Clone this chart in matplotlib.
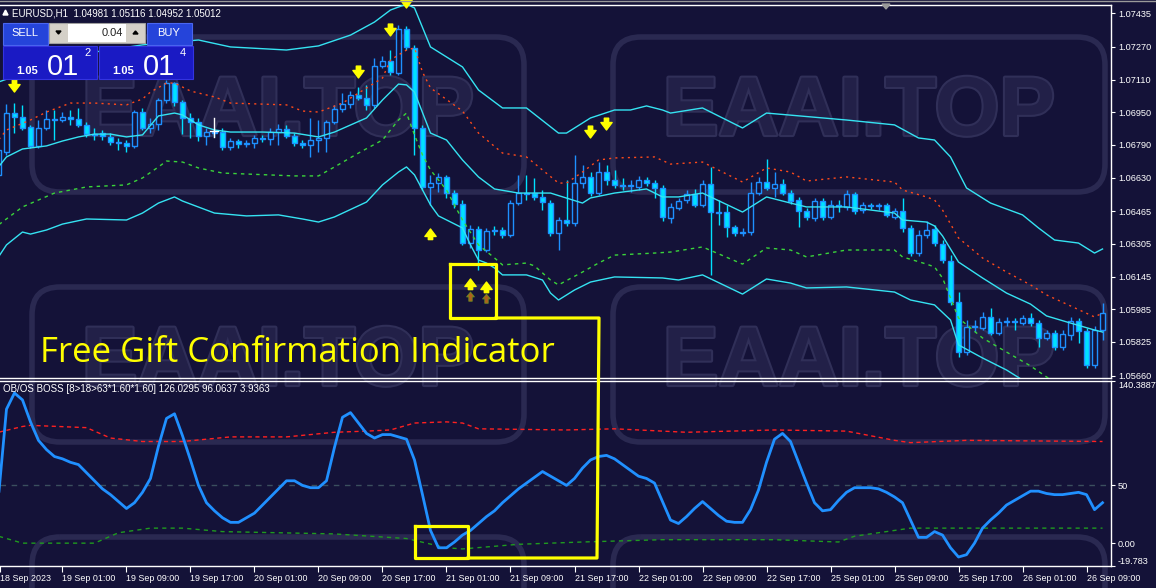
import numpy as np
import matplotlib.pyplot as plt
import matplotlib.patheffects as pe
from matplotlib.patches import Rectangle, FancyBboxPatch, Polygon
from matplotlib.lines import Line2D
from matplotlib.transforms import Affine2D

plt.rcParams['font.family'] = ['Liberation Sans', 'DejaVu Sans']

W, H = 1156, 588
BG = '#141238'
CYAN = '#35e3f2'
BULL = '#1e90ff'
BEAR = '#00e1ff'

# EURUSD H1 candles, first bar 18 Sep 17:00
open_ = [1.06643, 1.06755, 1.06946, 1.06927, 1.06878, 1.06785, 1.06873, 1.06917, 1.06912, 1.06927,
         1.06917, 1.06888, 1.06843, 1.06848, 1.06829, 1.06804, 1.06799, 1.06785, 1.06951, 1.06873,
         1.06892, 1.07010, 1.07093, 1.07000, 1.06922, 1.06902, 1.06834, 1.06853, 1.06853, 1.06780,
         1.06809, 1.06794, 1.06799, 1.06824, 1.06819, 1.06853, 1.06868, 1.06834, 1.06799, 1.06790,
         1.06814, 1.06824, 1.06902, 1.06966, 1.06990, 1.07035, 1.07020, 1.06986, 1.07177, 1.07201,
         1.07142, 1.07358, 1.07265, 1.06873, 1.06584, 1.06603, 1.06633, 1.06554, 1.06500, 1.06309,
         1.06378, 1.06275, 1.06373, 1.06373, 1.06349, 1.06505, 1.06554, 1.06554, 1.06535, 1.06505,
         1.06358, 1.06422, 1.06407, 1.06603, 1.06633, 1.06554, 1.06657, 1.06618, 1.06594, 1.06589,
         1.06584, 1.06618, 1.06603, 1.06579, 1.06432, 1.06481, 1.06520, 1.06549, 1.06496, 1.06598,
         1.06461, 1.06461, 1.06388, 1.06358, 1.06363, 1.06554, 1.06608, 1.06579, 1.06598, 1.06554,
         1.06520, 1.06466, 1.06432, 1.06515, 1.06437, 1.06496, 1.06486, 1.06549, 1.06471, 1.06496,
         1.06491, 1.06496, 1.06437, 1.06466, 1.06383, 1.06260, 1.06349, 1.06378, 1.06304, 1.06221,
         1.06020, 1.05775, 1.05898, 1.05893, 1.05947, 1.05868, 1.05922, 1.05927, 1.05917, 1.05942,
         1.05917, 1.05844, 1.05868, 1.05800, 1.05858, 1.05927, 1.05878, 1.05711, 1.05883]
high = [1.06790, 1.06990, 1.06995, 1.06986, 1.06888, 1.06912, 1.06961, 1.06961, 1.06951, 1.06961,
        1.06971, 1.06902, 1.06873, 1.06863, 1.06848, 1.06824, 1.06814, 1.06961, 1.06971, 1.06922,
        1.07020, 1.07108, 1.07098, 1.07010, 1.06946, 1.06922, 1.06873, 1.06873, 1.06873, 1.06824,
        1.06819, 1.06814, 1.06839, 1.06839, 1.06873, 1.06892, 1.06888, 1.06848, 1.06814, 1.06922,
        1.06912, 1.06912, 1.06986, 1.07044, 1.07054, 1.07074, 1.07084, 1.07216, 1.07226, 1.07255,
        1.07378, 1.07373, 1.07280, 1.06888, 1.06643, 1.06652, 1.06643, 1.06569, 1.06520, 1.06398,
        1.06393, 1.06383, 1.06393, 1.06388, 1.06520, 1.06643, 1.06643, 1.06628, 1.06569, 1.06520,
        1.06437, 1.06618, 1.06741, 1.06692, 1.06657, 1.06706, 1.06692, 1.06667, 1.06628, 1.06618,
        1.06638, 1.06633, 1.06618, 1.06594, 1.06505, 1.06530, 1.06569, 1.06574, 1.06618, 1.06682,
        1.06520, 1.06496, 1.06398, 1.06383, 1.06608, 1.06633, 1.06721, 1.06657, 1.06623, 1.06569,
        1.06535, 1.06481, 1.06530, 1.06530, 1.06520, 1.06520, 1.06569, 1.06559, 1.06510, 1.06505,
        1.06505, 1.06505, 1.06481, 1.06530, 1.06398, 1.06373, 1.06417, 1.06398, 1.06324, 1.06250,
        1.06069, 1.05932, 1.05932, 1.05971, 1.05991, 1.05942, 1.05947, 1.05942, 1.05957, 1.05966,
        1.05932, 1.05883, 1.05883, 1.05883, 1.05947, 1.05942, 1.05893, 1.05903, 1.06015]
low = [1.06628, 1.06741, 1.06848, 1.06863, 1.06775, 1.06775, 1.06863, 1.06814, 1.06902, 1.06888,
       1.06878, 1.06829, 1.06814, 1.06814, 1.06790, 1.06765, 1.06755, 1.06775, 1.06863, 1.06848,
       1.06863, 1.06995, 1.06981, 1.06843, 1.06824, 1.06809, 1.06790, 1.06829, 1.06765, 1.06765,
       1.06775, 1.06780, 1.06775, 1.06804, 1.06790, 1.06790, 1.06824, 1.06785, 1.06775, 1.06731,
       1.06755, 1.06755, 1.06892, 1.06951, 1.06971, 1.07010, 1.06961, 1.06971, 1.07167, 1.07133,
       1.07133, 1.07255, 1.06741, 1.06569, 1.06496, 1.06559, 1.06530, 1.06481, 1.06300, 1.06285,
       1.06177, 1.06265, 1.06349, 1.06334, 1.06339, 1.06496, 1.06520, 1.06520, 1.06471, 1.06344,
       1.06275, 1.06393, 1.06393, 1.06579, 1.06540, 1.06545, 1.06594, 1.06579, 1.06569, 1.06559,
       1.06569, 1.06589, 1.06530, 1.06417, 1.06407, 1.06471, 1.06505, 1.06486, 1.06486, 1.06153,
       1.06398, 1.06339, 1.06344, 1.06344, 1.06349, 1.06545, 1.06569, 1.06535, 1.06545, 1.06500,
       1.06388, 1.06422, 1.06417, 1.06422, 1.06427, 1.06461, 1.06471, 1.06451, 1.06456, 1.06476,
       1.06471, 1.06437, 1.06427, 1.06363, 1.06246, 1.06246, 1.06334, 1.06295, 1.06211, 1.06005,
       1.05751, 1.05760, 1.05873, 1.05883, 1.05858, 1.05858, 1.05903, 1.05883, 1.05908, 1.05903,
       1.05800, 1.05834, 1.05785, 1.05785, 1.05834, 1.05819, 1.05697, 1.05697, 1.05834]
close = [1.06765, 1.06946, 1.06927, 1.06873, 1.06785, 1.06873, 1.06917, 1.06912, 1.06927, 1.06917,
         1.06888, 1.06843, 1.06839, 1.06834, 1.06804, 1.06799, 1.06785, 1.06951, 1.06873, 1.06892,
         1.07010, 1.07093, 1.07000, 1.06922, 1.06902, 1.06834, 1.06853, 1.06848, 1.06780, 1.06809,
         1.06794, 1.06799, 1.06824, 1.06819, 1.06853, 1.06868, 1.06834, 1.06799, 1.06790, 1.06814,
         1.06824, 1.06902, 1.06966, 1.06990, 1.07035, 1.07020, 1.06986, 1.07177, 1.07201, 1.07147,
         1.07358, 1.07270, 1.06873, 1.06584, 1.06603, 1.06633, 1.06554, 1.06500, 1.06309, 1.06378,
         1.06275, 1.06368, 1.06368, 1.06349, 1.06505, 1.06554, 1.06549, 1.06535, 1.06510, 1.06358,
         1.06422, 1.06407, 1.06603, 1.06633, 1.06554, 1.06657, 1.06618, 1.06594, 1.06589, 1.06594,
         1.06618, 1.06603, 1.06579, 1.06437, 1.06486, 1.06515, 1.06549, 1.06496, 1.06598, 1.06461,
         1.06456, 1.06388, 1.06358, 1.06363, 1.06554, 1.06608, 1.06579, 1.06598, 1.06554, 1.06515,
         1.06466, 1.06437, 1.06515, 1.06437, 1.06496, 1.06491, 1.06549, 1.06466, 1.06496, 1.06491,
         1.06496, 1.06447, 1.06466, 1.06383, 1.06260, 1.06349, 1.06373, 1.06309, 1.06226, 1.06020,
         1.05775, 1.05898, 1.05903, 1.05947, 1.05868, 1.05922, 1.05927, 1.05922, 1.05942, 1.05917,
         1.05844, 1.05868, 1.05800, 1.05863, 1.05927, 1.05878, 1.05711, 1.05883, 1.05966]

# band lines (bar index, price)
upper_idx = [0, 6, 12, 18, 25, 29, 36, 40, 44, 47, 49, 51, 52, 54, 58, 60, 63, 66, 70, 71, 74, 77, 79, 81,
             83, 84, 88, 93, 96, 106, 112, 115, 117, 119, 121, 124, 128, 130, 132, 135, 137, 138]
upper_val = [1.07098, 1.07181, 1.07245, 1.07280, 1.07304, 1.07270, 1.07255, 1.07275, 1.07328, 1.07392,
             1.07451, 1.07480, 1.07461, 1.07270, 1.07172, 1.07059, 1.06971, 1.06971, 1.06848, 1.06848,
             1.06922, 1.06961, 1.06961, 1.06981, 1.06961, 1.06946, 1.06971, 1.06873, 1.06946, 1.06912,
             1.06888, 1.06824, 1.06814, 1.06731, 1.06579, 1.06505, 1.06447, 1.06383, 1.06324, 1.06309,
             1.06260, 1.06280]
red_idx = [0, 1, 4, 6, 9, 12, 16, 18, 19, 21, 22, 24, 27, 29, 36, 38, 40, 43, 45, 48, 49, 51, 52, 53, 54,
           58, 60, 63, 66, 68, 70, 71, 73, 75, 77, 82, 84, 88, 93, 96, 99, 101, 106, 112, 113, 116, 117,
           118, 120, 123, 126, 129, 131, 134, 137, 138]
red_val = [1.06814, 1.06863, 1.06912, 1.06951, 1.06995, 1.06995, 1.06986, 1.07015, 1.07049, 1.07093,
           1.07093, 1.07054, 1.07025, 1.06995, 1.06986, 1.06956, 1.06951, 1.06995, 1.07044, 1.07118,
           1.07206, 1.07255, 1.07265, 1.07147, 1.07069, 1.06956, 1.06848, 1.06750, 1.06731, 1.06667,
           1.06603, 1.06603, 1.06657, 1.06716, 1.06726, 1.06731, 1.06696, 1.06706, 1.06608, 1.06677,
           1.06657, 1.06613, 1.06633, 1.06608, 1.06569, 1.06535, 1.06520, 1.06471, 1.06334, 1.06236,
           1.06167, 1.06104, 1.06055, 1.06001, 1.05947, 1.05966]
green_idx = [0, 3, 7, 9, 11, 16, 18, 20, 21, 23, 25, 28, 37, 40, 42, 45, 48, 50, 51, 52, 53, 54, 55, 56,
             58, 60, 62, 63, 66, 67, 69, 70, 73, 75, 77, 82, 84, 88, 93, 96, 99, 101, 106, 112, 113,
             116, 117, 118, 120, 123, 126, 129, 131, 132]
green_val = [1.06398, 1.06486, 1.06554, 1.06569, 1.06584, 1.06594, 1.06628, 1.06682, 1.06711, 1.06706,
             1.06677, 1.06652, 1.06638, 1.06638, 1.06682, 1.06750, 1.06814, 1.06912, 1.06946, 1.06839,
             1.06741, 1.06667, 1.06618, 1.06569, 1.06422, 1.06300, 1.06236, 1.06202, 1.06211, 1.06197,
             1.06128, 1.06104, 1.06167, 1.06211, 1.06250, 1.06260, 1.06265, 1.06290, 1.06206, 1.06285,
             1.06275, 1.06241, 1.06275, 1.06275, 1.06241, 1.06206, 1.06192, 1.06138, 1.05942, 1.05844,
             1.05775, 1.05707, 1.05653, 1.05628]
mid_idx = [0, 1, 3, 6, 8, 10, 12, 14, 16, 18, 20, 22, 23, 25, 27, 29, 33, 37, 40, 42, 46, 48, 50, 51, 52,
           54, 56, 58, 60, 62, 65, 69, 73, 74, 77, 81, 83, 85, 88, 93, 96, 99, 101, 106, 112, 113, 116,
           117, 118, 120, 123, 126, 129, 131, 134, 137, 138]
mid_val = [1.06682, 1.06731, 1.06770, 1.06785, 1.06809, 1.06829, 1.06843, 1.06843, 1.06829, 1.06839,
           1.06932, 1.06946, 1.06937, 1.06888, 1.06863, 1.06853, 1.06853, 1.06848, 1.06829, 1.06853,
           1.06922, 1.07010, 1.07088, 1.07084, 1.07049, 1.06848, 1.06814, 1.06716, 1.06633, 1.06574,
           1.06554, 1.06554, 1.06505, 1.06530, 1.06554, 1.06574, 1.06535, 1.06535, 1.06554, 1.06461,
           1.06535, 1.06505, 1.06486, 1.06486, 1.06456, 1.06422, 1.06412, 1.06393, 1.06344, 1.06216,
           1.06138, 1.06064, 1.06010, 1.05952, 1.05917, 1.05883, 1.05873]
lower_idx = [0, 1, 3, 4, 6, 8, 11, 16, 18, 20, 22, 23, 27, 31, 35, 38, 40, 42, 46, 48, 50, 51, 52, 54, 55,
             58, 59, 60, 61, 62, 63, 66, 68, 69, 70, 72, 74, 77, 83, 85, 88, 93, 96, 99, 101, 106, 112,
             114, 117, 119, 120, 123, 126, 128]
lower_val = [1.06241, 1.06300, 1.06363, 1.06353, 1.06373, 1.06402, 1.06427, 1.06422, 1.06456, 1.06505,
             1.06535, 1.06515, 1.06456, 1.06442, 1.06447, 1.06427, 1.06412, 1.06437, 1.06510, 1.06594,
             1.06657, 1.06682, 1.06643, 1.06496, 1.06442, 1.06383, 1.06300, 1.06226, 1.06211, 1.06187,
             1.06153, 1.06153, 1.06128, 1.06064, 1.06030, 1.06079, 1.06118, 1.06143, 1.06138, 1.06128,
             1.06153, 1.06059, 1.06133, 1.06113, 1.06089, 1.06094, 1.06069, 1.06030, 1.06006, 1.05932,
             1.05810, 1.05746, 1.05687, 1.05638]

# signal arrows (bar index, price of arrow tip)
down_idx = [2, 45, 49, 51, 74, 76]
down_tip = [1.07049, 1.07118, 1.07324, 1.07461, 1.06824, 1.06863]
up_idx = [54, 59, 61]
up_tip = [1.06378, 1.06133, 1.06118]
small_up_idx = [59, 61]
small_up_tip = [1.06069, 1.06059]

# OB/OS BOSS oscillator
osc = [40, 116, 130, 124, 105, 89, 81, 75, 73, 70, 68, 61, 54, 47, 42, 36, 30, 35, 44, 56,
       84, 108, 112, 93, 72, 50, 35, 28, 22, 18, 18, 22, 26, 33, 40, 47, 54, 54, 50, 48,
       48, 54, 83, 109, 113, 104, 95, 91, 94, 94, 92, 90, 72, 42, 11, -4, -4, 1, 7, 11,
       17, 23, 28, 35, 41, 47, 52, 57, 62, 58, 54, 50, 56, 65, 72, 75, 76, 73, 68, 63,
       58, 56, 52, 36, 20, 17, 23, 30, 36, 30, 24, 19, 18, 18, 29, 46, 70, 90, 95, 88,
       70, 52, 35, 28, 29, 37, 44, 48, 48, 48, 47, 44, 40, 35, 20, 5, 5, 10, 7, -4,
       -12, -10, 0, 13, 20, 26, 33, 37, 41, 45, 45, 43, 42, 42, 43, 44, 42, 29, 35]
ob_idx = [0, 3, 4, 11, 14, 18, 23, 29, 36, 42, 46, 49, 52, 56, 58, 60, 71, 77, 86, 97, 106, 112, 114, 121, 138]
ob_val = [96, 101, 102, 100, 91, 88, 88, 92, 92, 96, 97, 98, 104, 105, 104, 99, 98, 99, 96, 98, 97, 89, 87, 89, 88]
os_idx = [0, 3, 12, 15, 19, 23, 28, 42, 51, 56, 58, 65, 73, 83, 97, 105, 107, 111, 114, 138]
os_val = [6, 0, 0, 9, 13, 13, 10, 8, 4, -4, -5, -1, 1, 3, 3, 1, 6, 10, 13, 13]

price_ticks = [1.07435, 1.07270, 1.07110, 1.06950, 1.06790, 1.06630, 1.06465,
               1.06305, 1.06145, 1.05985, 1.05825, 1.05660]
sub_ticks = [140.3887, 50, 0, -19.783]
sub_tick_labels = ['140.3887', '50', '0.00', '-19.783']
time_labels = ['18 Sep 2023', '19 Sep 01:00', '19 Sep 09:00', '19 Sep 17:00', '20 Sep 01:00',
               '20 Sep 09:00', '20 Sep 17:00', '21 Sep 01:00', '21 Sep 09:00', '21 Sep 17:00',
               '22 Sep 01:00', '22 Sep 09:00', '22 Sep 17:00', '25 Sep 01:00', '25 Sep 09:00',
               '25 Sep 17:00', '26 Sep 01:00', '26 Sep 09:00']

fig = plt.figure(figsize=(W / 100, H / 100), dpi=100, facecolor=BG)
pix = Affine2D().scale(1 / W, -1 / H).translate(0, 1) + fig.transFigure

# watermark behind everything
for top in (37, 287, 537):
    for left in (32, 613):
        fig.add_artist(FancyBboxPatch((left, top), 492, 155, boxstyle='round,pad=0,rounding_size=28',
                                      transform=pix, facecolor='none', edgecolor='#2a2951', lw=4, zorder=-2))
        if top < 500:
            fig.text(left + 246, top + 76, 'EAAI.TOP', transform=pix, ha='center', va='center',
                     fontsize=60, fontweight='bold', color='#222048', zorder=-1,
                     path_effects=[pe.withStroke(linewidth=3, foreground='#302f58')])

ax = fig.add_axes([0, 1 - 378 / H, 1111 / W, 373 / H])
sub = fig.add_axes([0, 1 - 566 / H, 1111 / W, 185 / H], sharex=ax)

xlo, xhi = 0.19, 139.06
for a in (ax, sub):
    a.set_facecolor('none')
    a.set_xlim(xlo, xhi)
    a.spines['left'].set_visible(False)
    for s in ('top', 'right', 'bottom'):
        a.spines[s].set_color('white')
        a.spines[s].set_linewidth(1)
    a.yaxis.tick_right()
    a.tick_params(axis='y', colors='white', labelcolor='white', labelsize=6.6, length=3, pad=2)

# candles
x = np.arange(len(close))
o = np.array(open_)
c = np.array(close)
hi = np.array(high)
lo = np.array(low)
bull = c >= o
ax.vlines(x[bull], lo[bull], hi[bull], color=BULL, lw=1, zorder=3)
ax.vlines(x[~bull], lo[~bull], hi[~bull], color=BEAR, lw=1, zorder=3)
body_lo = np.minimum(o, c)
body_h = np.maximum(np.abs(c - o), 0.00002)
ax.bar(x[bull], body_h[bull], 0.62, body_lo[bull], facecolor=BG, edgecolor=BULL, lw=1, zorder=4)
ax.bar(x[~bull], body_h[~bull], 0.62, body_lo[~bull], facecolor=BEAR, edgecolor=BULL, lw=1, zorder=4)

# bands
ax.plot(upper_idx, upper_val, color=CYAN, lw=1, zorder=5)
ax.plot(mid_idx, mid_val, color=CYAN, lw=1, zorder=5)
ax.plot(lower_idx, lower_val, color=CYAN, lw=1, zorder=5)
ax.plot(red_idx, red_val, color='#ff4a1a', lw=1, ls=(0, (1.5, 3)), zorder=5)
ax.plot(green_idx, green_val, color='#3ad43a', lw=1, ls=(0, (2.5, 3)), zorder=5)

# arrows
for i, p in zip(down_idx, down_tip):
    ax.annotate('', xy=(i, p), xytext=(i, p + 0.00058),
                arrowprops=dict(arrowstyle='simple,head_width=0.9,head_length=0.6,tail_width=0.35',
                                color='#ffff00', shrinkA=0, shrinkB=0, mutation_scale=9), zorder=6)
for i, p in zip(up_idx, up_tip):
    ax.annotate('', xy=(i, p), xytext=(i, p - 0.00052),
                arrowprops=dict(arrowstyle='simple,head_width=0.9,head_length=0.6,tail_width=0.35',
                                color='#ffff00', shrinkA=0, shrinkB=0, mutation_scale=9), zorder=6)
for i, p in zip(small_up_idx, small_up_tip):
    ax.annotate('', xy=(i, p), xytext=(i, p - 0.00045),
                arrowprops=dict(arrowstyle='simple,head_width=0.8,head_length=0.5,tail_width=0.35',
                                facecolor='#b0601c', edgecolor='#6a8a20', lw=0.6,
                                shrinkA=0, shrinkB=0, mutation_scale=7), zorder=6)

ax.set_ylim(1.056478, 1.074755)
ax.set_yticks(price_ticks)
ax.set_yticklabels(['%.5f' % p for p in price_ticks])
ax.tick_params(axis='x', bottom=False, labelbottom=False)

# oscillator window
sub.axhline(50, color='#3b4f5e', lw=1, ls=(0, (4, 4)), zorder=1)
sub.plot(ob_idx, ob_val, color='#ff2020', lw=1, ls=(0, (3, 2.5)), zorder=2)
sub.plot(os_idx, os_val, color='#1f9a1f', lw=1, ls=(0, (3, 3)), zorder=2)
sub.plot(x, osc, color='#2090ff', lw=2, zorder=3)
sub.set_ylim(-19.783, 140.3887)
sub.set_yticks(sub_ticks)
sub.set_yticklabels(sub_tick_labels)
ylabs = sub.get_yticklabels()
ylabs[0].set_va('top')
ylabs[-1].set_va('bottom')
sub.set_xticks([xlo] + [8 * k for k in range(1, len(time_labels))])
sub.set_xticklabels(time_labels)
sub.tick_params(axis='x', colors='white', labelcolor='white', labelsize=6.4, length=4, pad=2)
for t in sub.get_xticklabels():
    t.set_ha('left')
sub.text(0.003, 0.985, 'OB/OS BOSS [8>18>63*1.60*1.60] 126.0295 96.0637 3.9363', transform=sub.transAxes,
         color='white', fontsize=7, ha='left', va='top')

# header and trade panel
fig.add_artist(Line2D([0, W], [0.5, 0.5], transform=pix, color='#9a9a9a', lw=1))
fig.add_artist(Polygon([(3, 15), (8, 15), (5.5, 10)], closed=True, transform=pix, color='white'))
fig.text(12, 13, 'EURUSD,H1  1.04981 1.05116 1.04952 1.05012', transform=pix, color='white',
         fontsize=7, ha='left', va='center')
fig.add_artist(Polygon([(882, 4), (890, 4), (886, 9)], closed=True, transform=pix, color='#9a9a9a'))

for bx, label in ((3, 'SELL'), (147, 'BUY')):
    fig.add_artist(Rectangle((bx, 23), 45, 22, transform=pix, facecolor='#2544da', edgecolor='#4a66f0', lw=0.8))
    fig.text(bx + 22, 33, label, transform=pix, color='white', fontsize=8, ha='center', va='center')
fig.add_artist(Rectangle((49, 23), 96, 20, transform=pix, facecolor='#d4d0c8', edgecolor='#a0a0a0', lw=0.8))
fig.add_artist(Rectangle((68, 24), 58, 18, transform=pix, facecolor='white', edgecolor='none'))
fig.add_artist(Polygon([(56, 31), (61, 31), (58.5, 34)], closed=True, transform=pix, color='black'))
fig.add_artist(Polygon([(133, 34), (138, 34), (135.5, 31)], closed=True, transform=pix, color='black'))
fig.text(123, 33, '0.04', transform=pix, color='#222222', fontsize=8, ha='right', va='center')
for bx, sup in ((3, '2'), (99, '4')):
    fig.add_artist(Rectangle((bx, 46), 94, 33, transform=pix, facecolor='#1a1ac4', edgecolor='#3434e0', lw=0.8))
    fig.text(bx + 13, 74, '1.05', transform=pix, color='white', fontsize=8, fontweight='bold',
             ha='left', va='baseline')
    fig.text(bx + 44, 75, '01', transform=pix, color='white', fontsize=21, ha='left', va='baseline')
    fig.text(bx + 81, 56, sup, transform=pix, color='white', fontsize=8, ha='left', va='baseline')

# mouse cursor
fig.add_artist(Line2D([214, 214], [118, 137], transform=pix, color='white', lw=1))
fig.add_artist(Line2D([210, 218], [131, 131], transform=pix, color='white', lw=1))

# yellow annotation
fig.add_artist(Line2D([450, 496, 496, 450, 450], [264, 264, 318, 318, 264], transform=pix,
                      color='#ffff00', lw=2.3, zorder=10))
fig.add_artist(Line2D([496, 599, 597, 468], [318, 318, 558, 558], transform=pix,
                      color='#ffff00', lw=2.3, zorder=10))
fig.add_artist(Line2D([415, 468, 468, 415, 415], [526, 526, 558, 558, 526], transform=pix,
                      color='#ffff00', lw=2.3, zorder=10))
fig.text(40, 362, 'Free Gift Confirmation Indicator', transform=pix, color='#ffff00',
         fontsize=25, family='Open Sans', ha='left', va='baseline', zorder=10)

fig.savefig('out.png', dpi=100, facecolor=BG)
